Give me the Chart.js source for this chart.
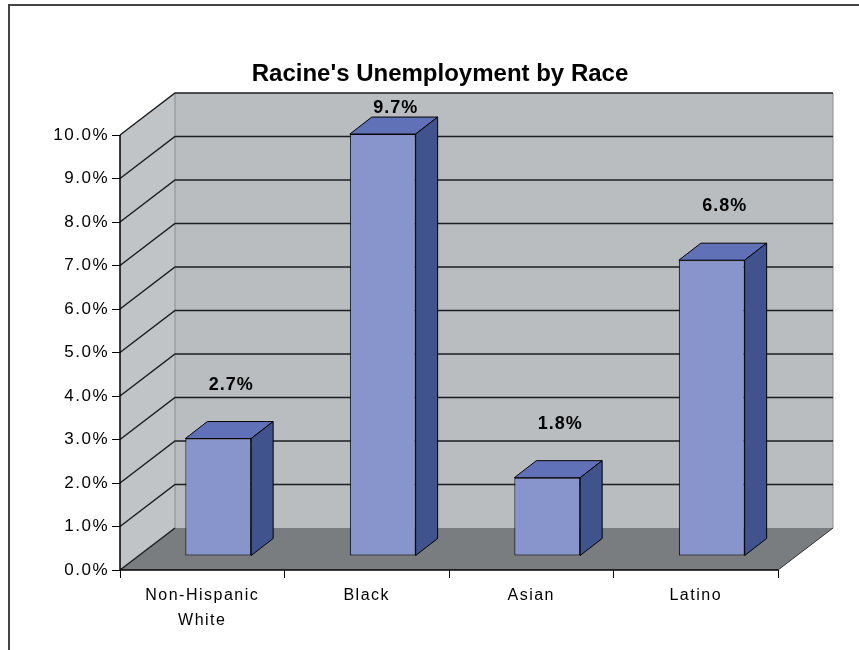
<!DOCTYPE html>
<html>
<head>
<meta charset="utf-8">
<title>Racine's Unemployment by Race</title>
<script src="https://cdn.jsdelivr.net/npm/chart.js@4.4.1/dist/chart.umd.min.js"></script>
<style>
  html, body { margin: 0; padding: 0; background: #fff; }
  #wrap { position: relative; width: 859px; height: 650px; }
</style>
</head>
<body>
<div id="wrap"><canvas id="raceChart"></canvas></div>
<script>
const chartTitle = "Racine's Unemployment by Race";
const categories = [['Non-Hispanic', 'White'], 'Black', 'Asian', 'Latino'];
const rates = [2.7, 9.7, 1.8, 6.8];
const yMin = 0, yMax = 10, yStep = 1;

// 3D look, pixel offsets
const WALL_DX = 55, WALL_DY = -42;   // depth of the box
const BAR_DX = 16, BAR_DY = -14;     // where bar fronts sit inside the box
const SIDE_DX = 22, SIDE_DY = -17;   // depth of each bar

const colors = {
    front: '#8795cc', top: '#6071b8', side: '#40538c',
    wall: '#b9bdc0', sideWall: '#c1c4c7', floor: '#7a7d80', grid: '#1e1e1e'
};

function poly(ctx, pts, fill, stroke) {
    ctx.beginPath();
    pts.forEach(([px, py], i) => i ? ctx.lineTo(px, py) : ctx.moveTo(px, py));
    ctx.closePath();
    ctx.fillStyle = fill;
    ctx.fill();
    if (stroke) {
        ctx.strokeStyle = stroke;
        ctx.lineWidth = 1;
        ctx.stroke();
    }
}

const box3d = {
    id: 'box3d',
    beforeDraw(chart) {
        const ctx = chart.ctx;
        ctx.save();
        ctx.fillStyle = '#fff';
        ctx.fillRect(0, 0, chart.width, chart.height);
        ctx.strokeStyle = '#444';
        ctx.lineWidth = 2;
        ctx.beginPath();
        ctx.moveTo(9, chart.height);
        ctx.lineTo(9, 5);
        ctx.lineTo(chart.width, 5);
        ctx.stroke();
        ctx.restore();
        // Excel-style wide tick labels
        ctx.letterSpacing = '1.5px';
    },
    beforeDatasetsDraw(chart) {
        const { ctx, chartArea: a, scales: { y } } = chart;
        const L = a.left, R = a.right, T = a.top, B = a.bottom;
        ctx.save();
        ctx.fillStyle = colors.wall;
        ctx.fillRect(L + WALL_DX, T + WALL_DY, R - L, B - T);
        poly(ctx, [[L, T], [L + WALL_DX, T + WALL_DY], [L + WALL_DX, B + WALL_DY], [L, B]], colors.sideWall);
        poly(ctx, [[L, B], [L + WALL_DX, B + WALL_DY], [R + WALL_DX, B + WALL_DY], [R, B]], colors.floor);

        // wall edges
        ctx.strokeStyle = '#8c8c8c';
        ctx.lineWidth = 1;
        ctx.beginPath();
        ctx.moveTo(L + WALL_DX, T + WALL_DY);
        ctx.lineTo(L + WALL_DX, B + WALL_DY);
        ctx.moveTo(R + WALL_DX, T + WALL_DY);
        ctx.lineTo(R + WALL_DX, B + WALL_DY);
        ctx.stroke();

        // gridlines on side and back walls
        ctx.strokeStyle = colors.grid;
        ctx.lineWidth = 1.5;
        y.ticks.forEach(t => {
            const py = y.getPixelForValue(t.value);
            ctx.beginPath();
            ctx.moveTo(L, py);
            ctx.lineTo(L + WALL_DX, py + WALL_DY);
            if (t.value !== yMin) ctx.lineTo(R + WALL_DX, py + WALL_DY);
            ctx.stroke();
        });
        ctx.strokeStyle = '#333';
        ctx.lineWidth = 1;
        ctx.beginPath();
        ctx.moveTo(R, B);
        ctx.lineTo(R + WALL_DX, B + WALL_DY);
        ctx.stroke();

        // front axis lines
        ctx.strokeStyle = '#000';
        ctx.lineWidth = 1.5;
        ctx.beginPath();
        ctx.moveTo(L, T);
        ctx.lineTo(L, B);
        ctx.lineTo(R, B);
        ctx.stroke();
        ctx.restore();

        // bars sit part way into the box; the library draws the front faces
        ctx.save();
        ctx.translate(BAR_DX, BAR_DY);
        chart.getDatasetMeta(0).data.forEach(bar => {
            const { x: cx, y: top, base, width } = bar.getProps(['x', 'y', 'base', 'width'], true);
            const l = cx - width / 2, r = cx + width / 2;
            poly(ctx, [[l, top], [l + SIDE_DX, top + SIDE_DY], [r + SIDE_DX, top + SIDE_DY], [r, top]], colors.top, '#000');
            poly(ctx, [[r, top], [r + SIDE_DX, top + SIDE_DY], [r + SIDE_DX, base + SIDE_DY], [r, base]], colors.side, '#000');
        });
    },
    afterDatasetsDraw(chart) {
        const { ctx, chartArea: a } = chart;
        ctx.restore();

        ctx.save();
        ctx.fillStyle = '#000';
        ctx.textAlign = 'center';
        ctx.textBaseline = 'middle';
        ctx.font = "bold 18px 'Liberation Sans', Arial, sans-serif";
        ctx.letterSpacing = '1px';
        chart.getDatasetMeta(0).data.forEach((bar, i) => {
            const lx = bar.x + BAR_DX + 13;
            const ly = Math.max(bar.y + BAR_DY - 54, a.top - 27);
            ctx.fillText(rates[i].toFixed(1) + '%', lx, ly);
        });

        ctx.letterSpacing = '0px';
        ctx.font = "bold 24px 'Liberation Sans', Arial, sans-serif";
        ctx.fillText(chartTitle, 440, 74);
        ctx.restore();
    }
};

Chart.defaults.font.family = "'Liberation Sans', Arial, sans-serif";
Chart.defaults.color = '#000';

new Chart(document.getElementById('raceChart'), {
    type: 'bar',
    data: {
        labels: categories,
        datasets: [{
            data: rates,
            backgroundColor: colors.front,
            borderColor: '#000',
            borderWidth: 1,
            borderSkipped: false,
            barPercentage: 0.4,
            categoryPercentage: 1,
            clip: false
        }]
    },
    options: {
        responsive: true,
        maintainAspectRatio: false,
        animation: false,
        layout: { padding: { top: 135, right: 81, bottom: 0, left: 0 } },
        plugins: {
            legend: { display: false },
            title: { display: false },
            tooltip: { enabled: false }
        },
        scales: {
            x: {
                grid: { offset: true, drawOnChartArea: false, tickLength: 8, tickColor: '#000' },
                border: { display: false },
                ticks: { font: { size: 16, lineHeight: 1.55 }, padding: 5, maxRotation: 0, autoSkip: false },
                afterFit: s => { s.height = 80; }
            },
            y: {
                min: yMin,
                max: yMax,
                grid: { drawOnChartArea: false, tickLength: 8, tickColor: '#000' },
                border: { display: false },
                ticks: { stepSize: yStep, font: { size: 17 }, padding: 3, callback: v => v.toFixed(1) + '%' },
                afterFit: s => { s.width = 120; }
            }
        }
    },
    plugins: [box3d]
});
</script>
</body>
</html>
